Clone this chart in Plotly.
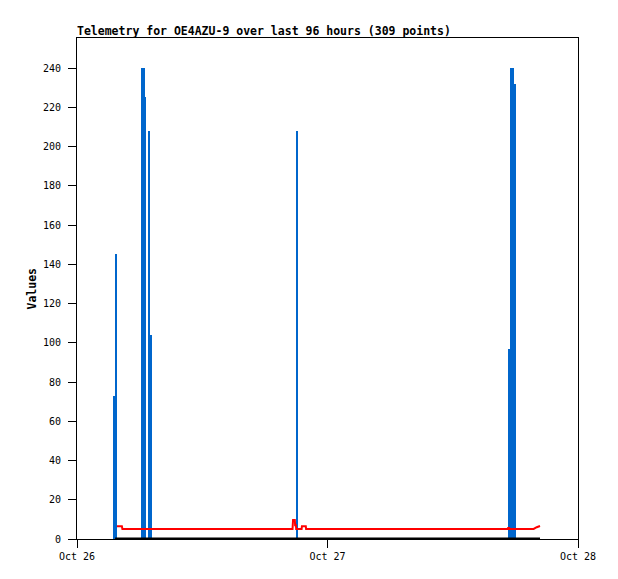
import plotly.graph_objects as go
from datetime import datetime, timedelta

# ---- data (hours after Oct 26 00:00) ----
start = datetime(2023, 10, 26)
blue_hours = [3.62, 3.78, 6.23, 6.41, 6.56, 6.90, 7.09, 21.08, 41.39, 41.58, 41.77, 41.92]
blue_values = [73, 145, 240, 240, 225, 208, 104, 208, 97, 240, 240, 232]

red_hours = [3.83, 4.30, 4.35, 20.65, 20.70, 20.87, 20.90, 20.98, 21.00, 21.52, 21.55, 21.92, 21.95,
             41.25, 41.30, 41.40, 41.45, 43.75, 44.05, 44.36]
red_values = [6.5, 6.5, 5.1, 5.1, 9.7, 9.7, 7.0, 7.0, 5.1, 5.1, 6.5, 6.5, 5.1,
              5.1, 5.6, 5.6, 5.1, 5.1, 6.0, 6.6]

black_hours = [3.65, 44.36]
black_values = [0, 0]

x_ticks = [datetime(2023, 10, 26), datetime(2023, 10, 27), datetime(2023, 10, 28)]
y_ticks = list(range(0, 241, 20))
title_text = "Telemetry for OE4AZU-9 over last 96 hours (309 points)"
y_title = "Values"


def to_dt(hours):
    return [start + timedelta(hours=h) for h in hours]


BAR_WIDTH_MS = 0.19 * 3600 * 1000
FONT = "DejaVu Sans Mono"
W, H = 610, 571  # page has an 8px body margin

fig = go.Figure()
fig.add_trace(go.Bar(
    x=to_dt(blue_hours), y=blue_values, width=BAR_WIDTH_MS,
    marker=dict(color="#0066cc", line=dict(width=0)), showlegend=False,
))
fig.add_trace(go.Scatter(
    x=to_dt(red_hours), y=red_values, mode="lines",
    line=dict(color="#ff0000", width=2), showlegend=False,
))
fig.add_trace(go.Scatter(
    x=to_dt(black_hours), y=black_values, mode="lines",
    line=dict(color="#000000", width=3), showlegend=False,
))

fig.update_layout(
    width=W, height=H,
    margin=dict(l=69, r=40, t=30, b=40),
    paper_bgcolor="white", plot_bgcolor="white",
    font=dict(family=FONT, size=10, color="black"),
    bargap=0,
    title=dict(text="<b>" + title_text + "</b>", x=69 / W, xanchor="left",
               y=1 - 23 / H, yanchor="middle", xref="container", yref="container",
               font=dict(family=FONT, size=11.5, color="black")),
)
fig.update_xaxes(
    type="date", range=[x_ticks[0], x_ticks[-1]],
    tickvals=x_ticks, tickformat="%b %d",
    ticks="outside", ticklen=8, tickcolor="black",
    showline=True, linecolor="black", linewidth=1, mirror=True,
    showgrid=False, zeroline=False,
)
fig.update_yaxes(
    range=[0, 255.3], tickvals=y_ticks,
    ticks="outside", ticklen=8, tickcolor="black", ticklabelstandoff=5,
    showline=True, linecolor="black", linewidth=1, mirror=True,
    showgrid=False, zeroline=False,
)
fig.add_annotation(
    text="<b>" + y_title + "</b>", textangle=-90, showarrow=False,
    xref="paper", yref="paper", x=(31 - 77) / 501, y=0.5,
    xanchor="center", yanchor="middle",
    font=dict(family=FONT, size=11.5, color="black"),
)

fig.write_html("out.html")
